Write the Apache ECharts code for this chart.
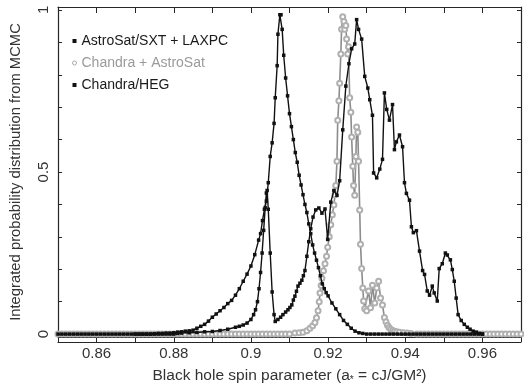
<!DOCTYPE html>
<html><head><meta charset="utf-8">
<script src="https://cdn.jsdelivr.net/npm/echarts@6/dist/echarts.min.js"></script>
<style>html,body{margin:0;padding:0;background:#fff}#c{width:524px;height:390px}</style>
</head><body><div id="c"></div>
<script>
// ---- data ----
const seriesNames = ['AstroSat/SXT + LAXPC', 'Chandra + AstroSat', 'Chandra/HEG'];
const xTickLabels = [0.86, 0.88, 0.90, 0.92, 0.94, 0.96];
const yTickLabels = [0, 0.5, 1];
const yTicks = [0, 0.1, 0.2, 0.3, 0.4, 0.5, 0.6, 0.7, 0.8, 0.9, 1];

// AstroSat/SXT + LAXPC
const astroX = [0.850,0.851,0.852,0.853,0.854,0.855,0.856,0.857,0.858,0.859,0.860,0.861,0.862,0.863,0.864,0.865,0.866,0.867,0.868,0.869,0.870,0.871,0.872,0.873,
0.874,0.875,0.876,0.877,0.878,0.879,0.880,0.881,0.882,0.883,0.884,0.885,0.886,0.887,0.888,0.889,0.890,0.891,0.892,0.893,0.894,0.895,0.896,0.897,0.898,0.899,0.900,0.901,0.902,0.9025,0.903,0.9035,0.904,0.9045,0.905,0.9055,0.906,0.9063,0.9068,0.907,0.9075,0.9078,
0.9081,0.9085,0.909,0.9095,0.910,0.9105,0.911,0.9115,0.912,0.9125,0.913,0.9135,0.914,0.9145,0.915,0.9155,0.916,0.9165,0.917,0.9175,0.918,0.9185,0.919,0.9195,0.920,0.921,0.922,0.923,0.924,0.925,0.926,0.927,0.928,0.929,0.930,
0.931,0.932,0.933,0.934,0.935,0.936,0.937,0.938,0.939,0.940,0.941,0.942,0.943,0.944,0.945,0.946,0.947,0.948,0.949,0.950,0.951,0.952,0.953,0.954,0.955,0.956,0.957,0.958,0.959,0.960];
const astroY = [0,0,0,0,0,0,0,0,0,0,0,0,0,0,0,0,0,0,0,0,0,0,0,0,
0.000,0.001,0.002,0.002,0.003,0.003,0.004,0.006,0.007,0.009,0.010,0.012,0.018,0.024,0.030,0.040,0.052,0.062,0.072,0.082,0.094,0.104,0.120,0.140,0.163,0.185,0.210,0.245,0.290,0.310,0.350,0.385,0.410,0.467,0.548,0.590,0.650,0.729,0.828,0.925,0.985,0.985,
0.940,0.860,0.790,0.735,0.680,0.640,0.600,0.560,0.530,0.490,0.460,0.430,0.400,0.375,0.340,0.310,0.275,0.250,0.228,0.205,0.180,0.155,0.140,0.128,0.118,0.096,0.078,0.060,0.042,0.030,0.018,0.009,0.004,0.002,0,
0,0,0,0,0,0,0,0,0,0,0,0,0,0,0,0,0,0,0,0,0,0,0,0,0,0,0,0,0,0];

// Chandra + AstroSat
const jointX = [0.850,0.851,0.852,0.853,0.854,0.855,0.856,0.857,0.858,0.859,0.860,0.861,0.862,0.863,0.864,0.865,0.866,0.867,0.868,0.869,0.870,0.871,0.872,0.873,0.874,0.875,0.876,0.877,0.878,0.879,0.880,0.881,0.882,0.883,0.884,0.885,0.886,0.887,0.888,0.889,0.890,0.891,0.892,0.893,0.894,0.895,0.896,0.897,0.898,0.899,0.900,0.901,0.902,0.903,0.904,0.905,0.906,0.907,0.908,0.909,0.910,
0.9114,0.9125,0.9135,0.9145,0.9153,0.9160,0.9166,0.9170,0.9174,0.9177,0.9179,0.9182,0.9184,0.9188,0.9192,0.9196,0.9199,0.9203,0.9207,0.9211,0.9215,0.9218,0.9220,0.9223,0.9225,0.9228,0.9230,0.9233,0.9235,0.9238,0.9241,0.9243,0.9246,0.9248,0.9251,0.9253,0.9256,0.9259,0.9261,0.9264,0.9266,0.9269,0.9272,0.9274,0.9277,0.9279,0.9282,0.9284,0.9287,0.9290,0.9292,0.9295,0.9300,0.9305,0.9310,0.9315,0.9321,0.9326,0.9331,0.9336,0.9341,0.9346,0.9350,0.9354,0.9358,0.9362,0.9367,0.9372,0.9378,0.9385,0.9395,0.9405,0.9415,
0.943,0.944,0.945,0.946,0.947,0.948,0.949,0.950,0.951,0.952,0.953,0.954,0.955,0.956,0.957,0.958,0.959,0.960,0.961,0.962,0.963,0.964,0.965,0.966,0.967,0.968,0.969,0.970];
const jointY = [0,0,0,0,0,0,0,0,0,0,0,0,0,0,0,0,0,0,0,0,0,0,0,0,0,0,0,0,0,0,0,0,0,0,0,0,0,0,0,0,0,0,0,0,0,0,0,0,0,0,0,0,0,0,0,0,0,0,0,0,0,
0.003,0.004,0.006,0.010,0.018,0.026,0.036,0.050,0.072,0.100,0.127,0.150,0.172,0.195,0.217,0.240,0.268,0.300,0.337,0.368,0.398,0.430,0.458,0.533,0.660,0.720,0.774,0.864,0.940,0.979,0.964,0.940,0.952,0.910,0.864,0.886,0.729,0.684,0.608,0.518,0.458,0.428,0.548,0.639,0.623,0.533,0.383,0.277,0.202,0.142,0.102,0.078,0.072,0.133,0.081,0.151,0.096,0.142,0.163,0.111,0.090,0.051,0.038,0.027,0.020,0.015,0.011,0.009,0.007,0.006,0.004,0.003,0.002,
0,0,0,0,0,0,0,0,0,0,0,0,0,0,0,0,0,0,0,0,0,0,0,0,0,0,0,0];

// Chandra/HEG
const hegX = [0.870,0.871,0.872,0.873,0.874,0.875,0.876,0.877,0.878,0.879,0.880,
0.881,0.882,0.884,0.886,0.888,0.890,0.892,0.894,0.896,0.897,0.898,0.899,0.900,0.9007,0.9012,0.9017,0.9021,0.9025,0.9029,0.9033,0.9037,0.9040,0.9042,0.9045,0.9050,0.9055,0.9060,0.9063,0.9070,0.9077,0.9083,0.9090,0.9096,0.9101,0.9106,0.9110,0.9114,0.9118,0.9122,0.9127,0.9132,0.9136,0.9140,0.9145,0.9150,0.9155,0.9161,0.9168,0.9176,0.9184,0.9192,0.9199,0.9207,0.9215,0.9223,0.9230,0.9238,0.9246,0.9254,0.9261,0.9269,0.9274,0.9279,0.9287,0.9295,0.9303,0.9308,0.9315,0.9318,0.9326,0.9334,0.9341,0.9346,0.9352,0.9359,0.9367,0.9372,0.9377,0.9385,0.9393,0.9398,0.9403,0.9411,0.9416,0.9421,0.9429,0.9437,0.9445,0.9450,0.9457,0.9463,0.9470,0.9475,0.9483,0.9488,0.9496,0.9504,0.9509,0.9517,0.9522,0.9527,0.9532,0.9537,0.9545,0.9553,0.9561,0.9568,0.9576,0.9584,0.9592,0.9600];
const hegY = [0,0,0,0,0,0,0,0,0,0,0,
0.002,0.003,0.004,0.005,0.007,0.008,0.011,0.015,0.021,0.024,0.028,0.034,0.045,0.060,0.075,0.100,0.140,0.190,0.250,0.320,0.390,0.435,0.443,0.385,0.250,0.130,0.060,0.039,0.045,0.052,0.060,0.068,0.075,0.082,0.090,0.105,0.117,0.132,0.148,0.157,0.166,0.180,0.196,0.240,0.285,0.325,0.361,0.383,0.389,0.373,0.386,0.292,0.407,0.443,0.428,0.473,0.630,0.765,0.834,0.880,0.895,0.970,0.940,0.910,0.795,0.759,0.723,0.675,0.497,0.482,0.509,0.539,0.744,0.693,0.660,0.708,0.569,0.593,0.614,0.578,0.467,0.434,0.413,0.331,0.313,0.319,0.256,0.196,0.184,0.133,0.120,0.148,0.127,0.102,0.202,0.217,0.250,0.244,0.229,0.199,0.163,0.111,0.060,0.042,0.030,0.021,0.015,0.009,0.006,0.002,0];

// ---- chart ----
const zip = (xs, ys) => xs.map((x, i) => [x, ys[i]]);
const X_MIN = 0.85, X_MAX = 0.97, Y_MIN = -0.009, Y_MAX = 1.009;
const FONT = 'Liberation Sans, Arial, sans-serif';
const AX = '#262626';
const chart = echarts.init(document.getElementById('c'), null, {renderer: 'canvas'});
const fmt = v => String(+(+v).toFixed(2));
chart.setOption({
  animation: false,
  backgroundColor: '#fff',
  textStyle: {fontFamily: FONT},
  grid: {left: 57, right: 3, top: 7, bottom: 45},
  legend: {
    orient: 'vertical', left: 72, top: 34, itemGap: 8, itemWidth: 4, itemHeight: 4, padding: 0,
    textStyle: {fontSize: 14, color: '#1a1a1a', fontFamily: FONT},
    data: [
      {name: seriesNames[0], icon: 'rect', itemStyle: {color: '#111', borderWidth: 0}},
      {name: seriesNames[1], icon: 'circle', itemStyle: {color: '#fff', borderColor: '#aaa', borderWidth: 1}, textStyle: {color: '#9a9a9a'}},
      {name: seriesNames[2], icon: 'rect', itemStyle: {color: '#111', borderWidth: 0}}
    ]
  },
  xAxis: [
    {type: 'value', position: 'bottom', min: X_MIN, max: X_MAX, interval: 0.01,
     axisLine: {show: true, onZero: false, lineStyle: {color: AX, width: 1.2}},
     axisTick: {show: true, inside: false, length: 5, lineStyle: {color: AX}},
     axisLabel: {customValues: xTickLabels, formatter: fmt, fontSize: 15, color: '#333', margin: 9, fontFamily: FONT},
     splitLine: {show: false},
     name: 'Black hole spin parameter (a{s|*} = cJ/GM²)', nameLocation: 'middle', nameGap: 30,
     nameTextStyle: {fontSize: 15.5, color: '#333', fontFamily: FONT, rich: {s: {fontSize: 10, padding: [8, 0, 0, 0], color: '#333'}}}},
    {type: 'value', position: 'bottom', offset: 5, min: X_MIN, max: X_MAX,
     axisLine: {show: true, onZero: false, lineStyle: {color: AX, width: 1.2}},
     axisTick: {show: false}, axisLabel: {show: false}, splitLine: {show: false}},
    {type: 'value', position: 'top', min: X_MIN, max: X_MAX, interval: 0.01,
     axisLine: {show: true, onZero: false, lineStyle: {color: AX, width: 1.2}},
     axisTick: {show: true, inside: true, length: 6, lineStyle: {color: AX}},
     axisLabel: {show: false}, splitLine: {show: false}}
  ],
  yAxis: [
    {type: 'value', position: 'left', min: Y_MIN, max: Y_MAX,
     axisLine: {show: true, onZero: false, lineStyle: {color: AX, width: 1.2}},
     axisTick: {show: true, inside: true, length: 4, customValues: yTicks, lineStyle: {color: AX}},
     axisLabel: {customValues: yTickLabels, formatter: fmt, rotate: 90, fontSize: 15, color: '#333', margin: 7, fontFamily: FONT},
     splitLine: {show: false},
     name: 'Integrated probability distribution from MCMC', nameLocation: 'middle', nameGap: 35,
     nameTextStyle: {fontSize: 14.8, color: '#333', fontFamily: FONT}},
    {type: 'value', position: 'right', min: Y_MIN, max: Y_MAX,
     axisLine: {show: true, onZero: false, lineStyle: {color: AX, width: 1.2}},
     axisTick: {show: true, inside: true, length: 4, customValues: yTicks, lineStyle: {color: AX}},
     axisLabel: {show: false}, splitLine: {show: false}}
  ],
  series: [
    {name: seriesNames[1], type: 'line', data: zip(jointX, jointY), z: 2,
     symbol: 'emptyCircle', symbolSize: 5, showAllSymbol: true,
     lineStyle: {color: '#8c8c8c', width: 1.6}, itemStyle: {color: '#b0b0b0', borderWidth: 1}},
    {name: seriesNames[0], type: 'line', data: zip(astroX, astroY), z: 3,
     symbol: 'rect', symbolSize: 3.5, showAllSymbol: true,
     lineStyle: {color: '#111', width: 1.4}, itemStyle: {color: '#111'}},
    {name: seriesNames[2], type: 'line', data: zip(hegX, hegY), z: 3,
     symbol: 'rect', symbolSize: 3.5, showAllSymbol: true,
     lineStyle: {color: '#111', width: 1.4}, itemStyle: {color: '#111'}}
  ]
});
</script></body></html>
